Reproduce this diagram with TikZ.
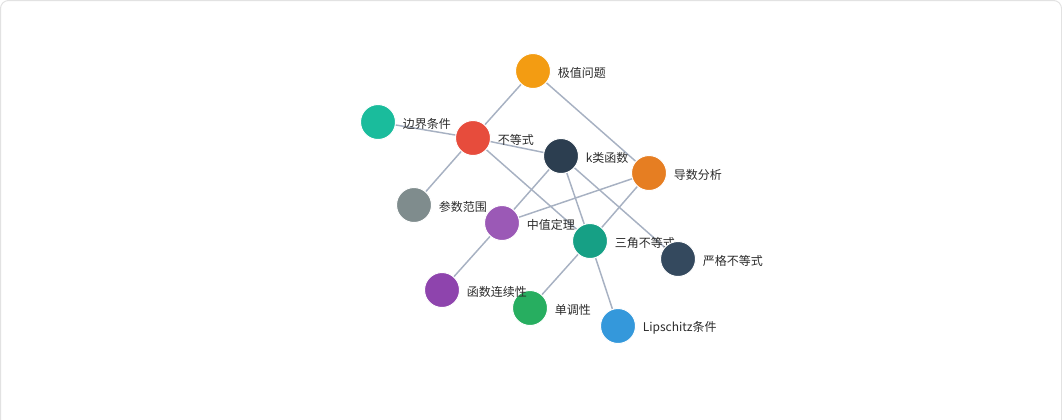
\documentclass[tikz,border=0pt]{standalone}
\usepackage{fontspec}
\newfontfamily\cjk{Noto Sans CJK SC}
\definecolor{edgec}{HTML}{A7B1C2}
\definecolor{txt}{HTML}{2B2B2B}
\definecolor{frame}{HTML}{E2E2E2}
\definecolor{c1}{HTML}{F39C12}
\definecolor{c2}{HTML}{1ABC9C}
\definecolor{c3}{HTML}{E74C3C}
\definecolor{c4}{HTML}{2C3E50}
\definecolor{c5}{HTML}{E67E22}
\definecolor{c6}{HTML}{7F8C8D}
\definecolor{c7}{HTML}{9B59B6}
\definecolor{c8}{HTML}{16A085}
\definecolor{c9}{HTML}{34495E}
\definecolor{c10}{HTML}{8E44AD}
\definecolor{c11}{HTML}{27AE60}
\definecolor{c12}{HTML}{3498DB}
\tikzset{
  dot/.style={circle, minimum size=26.25pt, inner sep=0pt, draw=white, line width=0.75pt},
  lbl/.style={anchor=west, inner sep=0pt, text=txt, font=\cjk\fontsize{9pt}{10pt}\selectfont},
  edge/.style={draw=edgec, line width=1.1pt}
}
\begin{document}
\begin{tikzpicture}[x=0.75pt,y=-0.75pt]
\useasboundingbox (0,0) rectangle (1062,419);
\draw[frame, line width=0.75pt, rounded corners=6pt] (0.5,0.5) rectangle (1061.5,440);
% node coordinates
\coordinate (p1) at (533,71);
\coordinate (p2) at (378,122);
\coordinate (p3) at (473,138);
\coordinate (p4) at (561,156);
\coordinate (p5) at (649,173);
\coordinate (p6) at (414,205);
\coordinate (p7) at (502,223);
\coordinate (p8) at (590,241);
\coordinate (p9) at (678,259);
\coordinate (p10) at (442,290);
\coordinate (p11) at (530,308);
\coordinate (p12) at (618,326);
% edges
\draw[edge] (p1) -- (p3);
\draw[edge] (p1) -- (p5);
\draw[edge] (p2) -- (p3);
\draw[edge] (p3) -- (p4);
\draw[edge] (p3) -- (p6);
\draw[edge] (p3) -- (p8);
\draw[edge] (p4) -- (p7);
\draw[edge] (p4) -- (p8);
\draw[edge] (p4) -- (p9);
\draw[edge] (p5) -- (p7);
\draw[edge] (p5) -- (p8);
\draw[edge] (p7) -- (p10);
\draw[edge] (p8) -- (p11);
\draw[edge] (p8) -- (p12);
% circles
\node[dot, fill=c1] (n1) at (p1) {};
\node[dot, fill=c2] (n2) at (p2) {};
\node[dot, fill=c3] (n3) at (p3) {};
\node[dot, fill=c4] (n4) at (p4) {};
\node[dot, fill=c5] (n5) at (p5) {};
\node[dot, fill=c6] (n6) at (p6) {};
\node[dot, fill=c7] (n7) at (p7) {};
\node[dot, fill=c8] (n8) at (p8) {};
\node[dot, fill=c10] (n10) at (p10) {};
\node[dot, fill=c11] (n11) at (p11) {};
\node[dot, fill=c12] (n12) at (p12) {};
% labels
\tikzset{lblpos/.style={xshift=18.4pt, yshift=-1.2pt}}
\node[lbl] (l1) at ([lblpos]p1) {极值问题};
\node[lbl] (l2) at ([lblpos]p2) {边界条件};
\node[lbl] (l3) at ([lblpos]p3) {不等式};
\node[lbl] (l4) at ([lblpos]p4) {k类函数};
\node[lbl] (l5) at ([lblpos]p5) {导数分析};
\node[lbl] (l6) at ([lblpos]p6) {参数范围};
\node[lbl] (l7) at ([lblpos]p7) {中值定理};
\node[lbl] (l8) at ([lblpos]p8) {三角不等式};
\node[lbl] (l10) at ([lblpos]p10) {函数连续性};
\node[lbl] (l11) at ([lblpos]p11) {单调性};
\node[lbl] (l12) at ([lblpos]p12) {Lipschitz条件};
\node[dot, fill=c9] (n9) at (p9) {};
\node[lbl] (l9) at ([lblpos]p9) {严格不等式};
\end{tikzpicture}
\end{document}
